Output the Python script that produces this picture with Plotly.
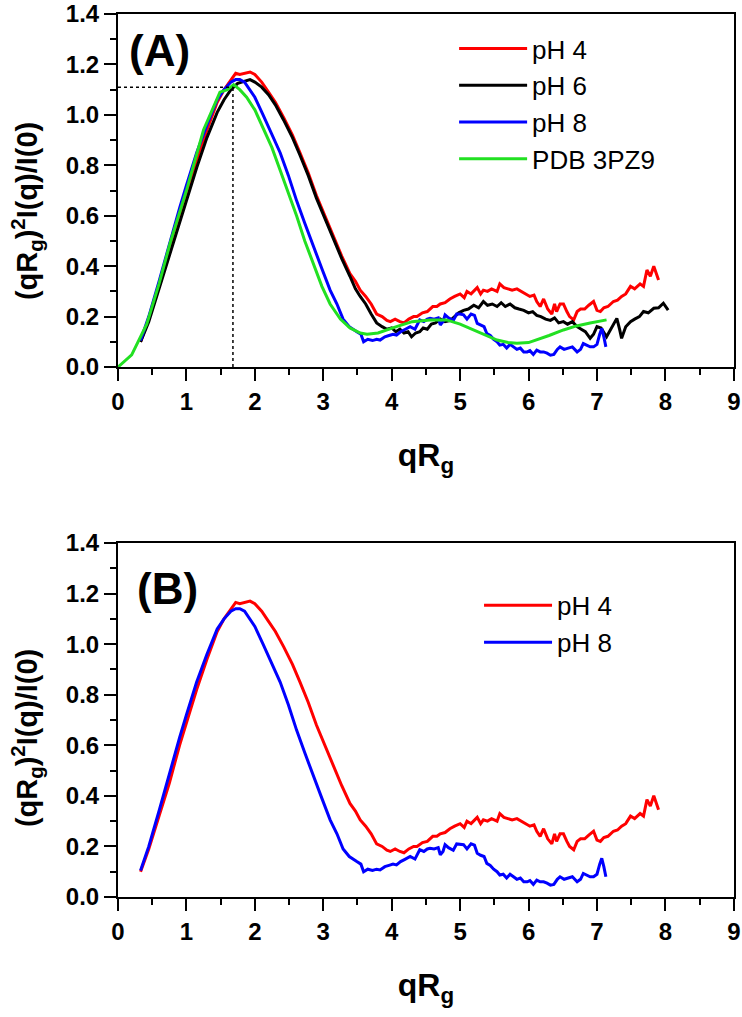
import plotly.graph_objects as go

# Dimensionless Kratky curves
ph4_x = [0.33, 0.45, 0.6, 0.75, 0.9, 1.0, 1.15, 1.3, 1.45, 1.55, 1.65, 1.72, 1.78, 1.85, 1.93, 2.0,
         2.1, 2.2, 2.3, 2.42, 2.55, 2.66, 2.78, 2.9, 3.02, 3.15, 3.27, 3.39, 3.47, 3.54, 3.62, 3.7,
         3.78, 3.86, 3.93, 3.98, 4.05, 4.12, 4.18, 4.25, 4.32, 4.37, 4.45, 4.52, 4.6, 4.66, 4.71,
         4.78, 4.85, 4.92, 5.0, 5.06, 5.1, 5.16, 5.2, 5.25, 5.3, 5.34, 5.4, 5.46, 5.54, 5.58, 5.64,
         5.7, 5.76, 5.83, 5.9, 5.96, 6.02, 6.08, 6.12, 6.17, 6.22, 6.28, 6.34, 6.38, 6.41, 6.46,
         6.51, 6.56, 6.6, 6.66, 6.71, 6.76, 6.82, 6.88, 6.95, 7.0, 7.05, 7.1, 7.16, 7.24, 7.3, 7.36,
         7.42, 7.49, 7.55, 7.63, 7.68, 7.73, 7.78, 7.83, 7.87, 7.90]
ph4_y = [0.10, 0.19, 0.32, 0.45, 0.60, 0.69, 0.82, 0.94, 1.05, 1.10, 1.14, 1.165, 1.16, 1.165, 1.17, 1.16,
         1.13, 1.09, 1.05, 0.99, 0.92, 0.85, 0.77, 0.68, 0.60, 0.52, 0.44, 0.37, 0.34, 0.305, 0.28, 0.25,
         0.21, 0.20, 0.185, 0.18, 0.19, 0.18, 0.175, 0.19, 0.20, 0.20, 0.215, 0.22, 0.24, 0.24, 0.25,
         0.255, 0.27, 0.28, 0.29, 0.275, 0.30, 0.29, 0.30, 0.315, 0.29, 0.305, 0.30, 0.31, 0.30, 0.33, 0.315,
         0.31, 0.305, 0.31, 0.30, 0.29, 0.28, 0.285, 0.26, 0.24, 0.27, 0.23, 0.21, 0.25, 0.22, 0.25,
         0.25, 0.22, 0.20, 0.187, 0.22, 0.23, 0.23, 0.245, 0.26, 0.225, 0.22, 0.235, 0.24, 0.26, 0.265, 0.28,
         0.29, 0.32, 0.31, 0.33, 0.32, 0.385, 0.36, 0.40, 0.37, 0.345]

ph6_x = [0.33, 0.45, 0.6, 0.75, 0.9, 1.0, 1.15, 1.3, 1.45, 1.55, 1.65, 1.75, 1.85, 1.93, 2.0, 2.1,
         2.2, 2.3, 2.42, 2.55, 2.66, 2.78, 2.9, 3.02, 3.15, 3.27, 3.39, 3.47, 3.54, 3.62, 3.7, 3.78,
         3.86, 3.93, 4.0, 4.06, 4.12, 4.18, 4.24, 4.29, 4.35, 4.41, 4.46, 4.52, 4.58, 4.64, 4.71,
         4.78, 4.86, 4.92, 4.98, 5.05, 5.12, 5.2, 5.27, 5.34, 5.4, 5.47, 5.54, 5.6, 5.66, 5.73, 5.8,
         5.86, 5.93, 6.0, 6.06, 6.12, 6.18, 6.25, 6.32, 6.38, 6.44, 6.51, 6.57, 6.64, 6.71, 6.77,
         6.83, 6.9, 6.95, 7.0, 7.06, 7.14, 7.2, 7.25, 7.29, 7.33, 7.36, 7.42, 7.49, 7.55, 7.62, 7.68,
         7.75, 7.83, 7.9, 7.97, 8.04]
ph6_y = [0.10, 0.18, 0.31, 0.44, 0.57, 0.66, 0.79, 0.91, 1.01, 1.06, 1.10, 1.125, 1.135, 1.14, 1.13, 1.11,
         1.08, 1.04, 0.98, 0.91, 0.84, 0.76, 0.67, 0.59, 0.51, 0.43, 0.36, 0.31, 0.28, 0.25, 0.21, 0.175,
         0.16, 0.15, 0.155, 0.14, 0.15, 0.135, 0.14, 0.12, 0.135, 0.14, 0.155, 0.15, 0.17, 0.175, 0.19,
         0.18, 0.185, 0.20, 0.215, 0.225, 0.23, 0.245, 0.235, 0.26, 0.245, 0.25, 0.24, 0.255, 0.24, 0.25, 0.235,
         0.23, 0.225, 0.215, 0.22, 0.205, 0.20, 0.19, 0.185, 0.195, 0.175, 0.18, 0.17, 0.18, 0.16, 0.15,
         0.14, 0.114, 0.13, 0.16, 0.155, 0.12, 0.15, 0.175, 0.193, 0.15, 0.114, 0.16, 0.18, 0.19, 0.20, 0.22,
         0.215, 0.233, 0.235, 0.253, 0.226]

ph8_x = [0.33, 0.45, 0.6, 0.75, 0.9, 1.0, 1.15, 1.3, 1.45, 1.55, 1.65, 1.72, 1.78, 1.85, 1.93, 2.0,
         2.12, 2.25, 2.37, 2.49, 2.61, 2.73, 2.86, 2.98, 3.10, 3.2, 3.29, 3.38, 3.49, 3.55, 3.59, 3.65,
         3.72, 3.78, 3.83, 3.9, 3.96, 4.02, 4.07, 4.13, 4.2, 4.27, 4.34, 4.41, 4.47, 4.52, 4.56, 4.62,
         4.68, 4.71, 4.75, 4.78, 4.83, 4.9, 4.95, 5.0, 5.05, 5.1, 5.16, 5.21, 5.25, 5.3, 5.35, 5.39,
         5.44, 5.49, 5.54, 5.58, 5.63, 5.68, 5.73, 5.78, 5.83, 5.88, 5.93, 5.98, 6.02, 6.07, 6.12,
         6.17, 6.22, 6.27, 6.32, 6.37, 6.42, 6.46, 6.52, 6.58, 6.64, 6.71, 6.76, 6.8, 6.85, 6.9, 6.95,
         7.0, 7.04, 7.07, 7.1, 7.13]
ph8_y = [0.105, 0.20, 0.34, 0.49, 0.63, 0.72, 0.85, 0.96, 1.06, 1.10, 1.13, 1.14, 1.14, 1.13, 1.10, 1.07,
         1.00, 0.92, 0.85, 0.76, 0.66, 0.57, 0.48, 0.39, 0.305, 0.25, 0.19, 0.16, 0.14, 0.13, 0.10, 0.11,
         0.105, 0.11, 0.107, 0.12, 0.125, 0.13, 0.127, 0.14, 0.15, 0.16, 0.15, 0.187, 0.18, 0.19, 0.193, 0.19,
         0.195, 0.167, 0.18, 0.207, 0.195, 0.185, 0.21, 0.21, 0.207, 0.19, 0.21, 0.205, 0.173, 0.165, 0.16, 0.133,
         0.125, 0.11, 0.10, 0.087, 0.09, 0.075, 0.09, 0.08, 0.07, 0.075, 0.06, 0.06, 0.065, 0.05, 0.067,
         0.06, 0.06, 0.055, 0.047, 0.05, 0.07, 0.08, 0.07, 0.075, 0.08, 0.06, 0.07, 0.093, 0.085, 0.08, 0.08,
         0.09, 0.13, 0.153, 0.12, 0.08]

pdb_x = [0, 0.2, 0.42, 0.6, 0.76, 1.0, 1.25, 1.49, 1.6, 1.69, 1.78, 1.88, 2.0, 2.12, 2.25, 2.37, 2.49,
         2.61, 2.73, 2.86, 2.98, 3.10, 3.25, 3.39, 3.54, 3.64, 3.8, 4.07, 4.3, 4.56, 4.8, 5.0, 5.15,
         5.35, 5.54, 5.7, 5.83, 6.0, 6.12, 6.3, 6.51, 6.7, 6.9, 7.14]
pdb_y = [0, 0.048, 0.17, 0.33, 0.49, 0.70, 0.94, 1.09, 1.10, 1.12, 1.10, 1.07, 1.02, 0.95, 0.87, 0.78, 0.69,
         0.60, 0.50, 0.41, 0.32, 0.25, 0.19, 0.155, 0.135, 0.13, 0.135, 0.16, 0.18, 0.187, 0.187, 0.17, 0.153,
         0.13, 0.107, 0.097, 0.094, 0.097, 0.107, 0.125, 0.147, 0.163, 0.175, 0.187]

# guide lines at the PDB peak
peak_x = 1.68
peak_y = 1.11

FONT = 'Liberation Sans, Arial, sans-serif'
RED, BLACK, BLUE, GREEN = '#ff0000', '#000000', '#0000ff', '#22e022'
YTITLE = '(qR<sub>g</sub>)<sup>2</sup>I(q)/I(0)'

fig = go.Figure()

top = [('pH 4', ph4_x, ph4_y, RED), ('pH 6', ph6_x, ph6_y, BLACK),
       ('pH 8', ph8_x, ph8_y, BLUE), ('PDB 3PZ9', pdb_x, pdb_y, GREEN)]
for name, xs, ys, col in top:
    fig.add_trace(go.Scatter(x=xs, y=ys, mode='lines', name=name,
                             line=dict(color=col, width=3),
                             xaxis='x', yaxis='y', legend='legend'))

for name, xs, ys, col in [('pH 4', ph4_x, ph4_y, RED), ('pH 8', ph8_x, ph8_y, BLUE)]:
    fig.add_trace(go.Scatter(x=xs, y=ys, mode='lines', name=name,
                             line=dict(color=col, width=3),
                             xaxis='x2', yaxis='y2', legend='legend2'))

axis_common = dict(showline=True, linecolor='black', linewidth=2, mirror=True,
                   ticks='outside', ticklen=12, tickwidth=2, tickcolor='black',
                   showgrid=False, zeroline=False, automargin=False,
                   tickfont=dict(family=FONT, size=24, color='black', weight='bold'))

xax = dict(axis_common, range=[0, 9], dtick=1, tick0=0,
           minor=dict(ticks='outside', ticklen=6, tickwidth=2, tickcolor='black', dtick=0.5),
           title=dict(text='qR<sub>g</sub>', standoff=30,
                      font=dict(family=FONT, size=32, color='black', weight='bold')))
yax = dict(axis_common, range=[0, 1.4], dtick=0.2, tick0=0, tickformat='.1f',
           minor=dict(ticks='outside', ticklen=6, tickwidth=2, tickcolor='black', dtick=0.1))

legend_style = dict(font=dict(family=FONT, size=26, color='black'),
                    bgcolor='rgba(0,0,0,0)', borderwidth=0, itemwidth=68,
                    xanchor='left', yanchor='top', tracegroupgap=0)

ytitle_font = dict(family=FONT, size=29, color='black', weight='bold')
label_font = dict(family=FONT, size=44, color='black', weight='bold')

fig.update_layout(
    width=742, height=1017,
    margin=dict(l=0, r=0, t=0, b=0),
    paper_bgcolor='white', plot_bgcolor='white',
    xaxis=dict(xax, domain=[0.159, 0.989], anchor='y'),
    yaxis=dict(yax, domain=[0.6391, 0.9862], anchor='x'),
    xaxis2=dict(xax, domain=[0.159, 0.989], anchor='y2'),
    yaxis2=dict(yax, domain=[0.118, 0.4661], anchor='x2'),
    legend=dict(legend_style, x=0.612, y=0.9754),
    legend2=dict(legend_style, x=0.6456, y=0.4278),
    shapes=[
        dict(type='line', xref='x', yref='y', x0=0, x1=peak_x, y0=peak_y, y1=peak_y,
             line=dict(color='black', width=1.5, dash='dot')),
        dict(type='line', xref='x', yref='y', x0=peak_x, x1=peak_x, y0=0, y1=peak_y,
             line=dict(color='black', width=1.5, dash='dot')),
    ],
    annotations=[
        dict(text=YTITLE, xref='paper', yref='paper', x=0.0364, y=0.7925, textangle=-90,
             xanchor='center', yanchor='middle', showarrow=False, font=ytitle_font),
        dict(text=YTITLE, xref='paper', yref='paper', x=0.0364, y=0.2743, textangle=-90,
             xanchor='center', yanchor='middle', showarrow=False, font=ytitle_font),
        dict(text='(A)', xref='x domain', yref='y domain', x=0.015, y=0.898,
             xanchor='left', yanchor='middle', showarrow=False, font=label_font),
        dict(text='(B)', xref='x2 domain', yref='y2 domain', x=0.028, y=0.872,
             xanchor='left', yanchor='middle', showarrow=False, font=label_font),
    ],
    showlegend=True,
)

# page body margin would shift the 742x1017 figure inside the window
fig.write_html('out.html', config={'displayModeBar': False},
               post_script="document.body.style.margin='0';")
